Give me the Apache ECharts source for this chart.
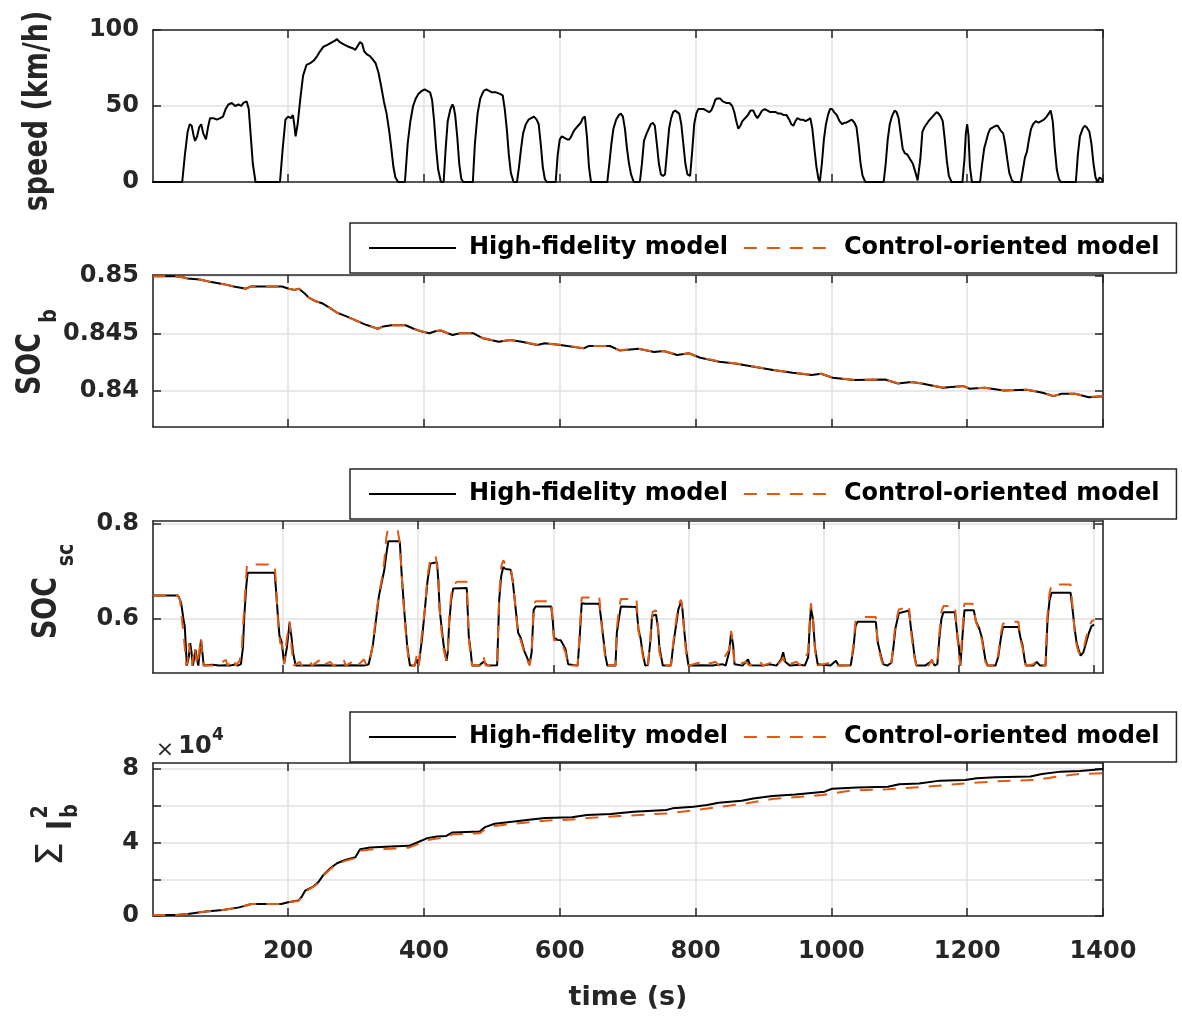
<!DOCTYPE html>
<html><head><meta charset="utf-8">
<script src="https://cdn.jsdelivr.net/npm/echarts@6/dist/echarts.min.js"></script>
<style>html,body{margin:0;padding:0;background:#fff}#c{width:1182px;height:1017px}</style>
</head><body><div id="c"></div>
<script>
// ---------- data ----------
const xTickValues = [200, 400, 600, 800, 1000, 1200, 1400];
const legendNames = ['High-fidelity model', 'Control-oriented model'];

// Panel 1: speed (km/h)
const speedT = [0,44,48,52,55,58,61,63,66,69,72,75,79,82,85,90,95,100,104,108,112,117,122,127,131,134,139,142,145,148,152,188,192,196,200,204,207,209,211,214,218,222,227,232,238,243,247,252,257,261,265,269,272,276,280,284,289,295,299,303,306,309,312,316,320,324,329,333,337,341,345,349,352,355,358,362,372,376,380,384,388,392,397,401,405,409,412,415,418,421,425,429,432,435,439,442,444,446,449,452,455,458,472,475,479,483,488,492,496,500,506,512,516,519,522,525,528,532,537,540,543,546,550,554,558,562,566,569,572,575,578,581,594,597,600,603,607,611,614,617,620,623,627,631,634,637,640,643,646,670,673,676,679,683,687,690,693,696,699,702,705,709,718,721,724,728,731,734,737,740,743,746,749,752,755,758,761,764,767,770,773,776,779,782,785,788,792,795,798,801,804,808,812,816,820,823,826,829,832,836,840,845,850,854,857,860,863,866,869,873,877,881,885,888,891,894,898,902,906,910,914,918,922,926,930,934,938,941,944,947,950,954,958,962,966,969,972,975,978,981,983,986,989,992,995,998,1001,1004,1008,1012,1016,1019,1022,1026,1030,1034,1037,1040,1043,1046,1050,1077,1080,1083,1086,1089,1093,1096,1099,1102,1105,1108,1112,1116,1120,1124,1127,1129,1131,1134,1137,1140,1143,1147,1151,1155,1158,1161,1164,1167,1170,1173,1177,1193,1196,1198,1200,1202,1204,1207,1219,1222,1225,1228,1231,1234,1238,1242,1245,1249,1253,1256,1259,1262,1266,1269,1279,1282,1285,1288,1291,1294,1297,1301,1305,1309,1313,1317,1320,1323,1326,1329,1332,1335,1338,1360,1363,1366,1370,1373,1376,1380,1383,1386,1389,1392,1395,1398,1400];
const speedV = [0,0,18,33,38,37,30,27,30,36,38,32,28,36,42,42,41,42,43,48,51,52,50,51,50,52,53,48,30,12,0,0,22,41,43,42,44,38,30,38,55,70,77,78,80,83,86,89,90,91,92,93,94,92,91,90,89,88,87,90,92,91,86,84,83,81,78,72,63,53,45,33,22,10,3,0,0,25,40,50,55,58,60,61,60,59,54,40,22,8,0,0,22,40,48,51,49,44,30,12,2,0,0,25,45,55,60,61,60,59,59,58,57,48,35,18,6,0,0,10,22,32,38,41,42,43,41,38,25,10,2,0,0,18,28,30,29,28,28,30,33,35,37,39,42,43,30,10,0,0,12,25,35,41,44,45,43,35,22,12,5,0,0,12,27,32,35,38,39,37,25,12,5,4,5,20,35,42,46,47,46,45,38,25,12,5,4,20,38,45,48,48,48,47,46,47,50,54,55,55,53,52,52,50,46,40,35,37,40,42,44,47,47,44,42,44,47,48,47,46,46,46,45,45,44,44,41,38,37,40,42,41,41,40,41,42,35,22,10,2,0,12,28,38,44,48,48,46,44,40,38,39,39,40,41,39,36,25,12,4,0,0,12,28,38,43,47,46,42,32,22,19,18,15,12,6,1,0,15,33,36,38,40,42,44,46,45,43,40,28,14,4,0,0,15,32,38,30,10,0,0,12,22,27,32,35,36,37,37,34,32,25,15,6,1,0,0,8,16,20,28,35,38,40,39,40,41,43,45,47,40,22,8,2,0,0,18,30,35,37,36,33,25,12,3,0,3,2,0];

// Panel 2: SOC_b
const socbT = [0,34,45,52,70,85,105,120,138,145,158,191,201,209,216,224,231,241,251,262,272,285,297,312,332,340,352,373,385,397,408,418,425,435,442,453,473,487,510,527,544,567,578,601,635,643,674,688,716,739,753,773,790,807,835,858,886,914,943,971,985,1002,1033,1079,1098,1118,1135,1164,1195,1203,1226,1254,1288,1311,1327,1339,1359,1379,1400];
const socbHF = [0.8500,0.8500,0.8499,0.8498,0.8497,0.8495,0.8493,0.8491,0.8489,0.8491,0.8491,0.8491,0.8489,0.8488,0.8489,0.8485,0.8481,0.8478,0.8476,0.8472,0.8468,0.8465,0.8462,0.8458,0.8454,0.8456,0.8457,0.8457,0.8454,0.84515,0.8450,0.8452,0.84524,0.8450,0.84485,0.8450,0.8450,0.84456,0.84426,0.84441,0.84426,0.84397,0.84412,0.84397,0.84368,0.84389,0.84389,0.8435,0.84365,0.84336,0.84345,0.8431,0.84325,0.84286,0.84251,0.84236,0.84207,0.84178,0.84155,0.84134,0.84146,0.84111,0.84091,0.84096,0.84061,0.84073,0.84058,0.84023,0.84038,0.84015,0.84023,0.8400,0.84006,0.8398,0.8395,0.83971,0.83971,0.83941,0.8395];
const socbCO = [0.8500,0.8500,0.8499,0.8498,0.8497,0.8495,0.8493,0.8491,0.8489,0.8491,0.8491,0.8491,0.8489,0.8488,0.8489,0.8485,0.8481,0.8478,0.8476,0.8472,0.8468,0.8465,0.8462,0.8458,0.8454,0.8456,0.8457,0.8457,0.8454,0.84517,0.8450,0.8452,0.84524,0.8450,0.84487,0.8450,0.8450,0.84458,0.84428,0.84441,0.84428,0.84399,0.84412,0.84399,0.8437,0.84389,0.84389,0.84352,0.84365,0.84338,0.84345,0.84312,0.84325,0.84288,0.84253,0.84238,0.84209,0.8418,0.84157,0.84136,0.84146,0.84113,0.84093,0.84096,0.84063,0.84073,0.8406,0.84025,0.84038,0.84017,0.84023,0.84002,0.84006,0.83982,0.83952,0.83971,0.83971,0.83943,0.8395];

// Panel 3: SOC_sc
const soscT_HF = [8,45,48,50,53,55,57,58,61,63,65,67,69,71,73,75,77,79,81,83,96,106,116,121,128,133,138,141,143,146,148,152,188,190,193,195,198,202,206,210,213,215,219,240,260,280,300,320,327,333,338,342,346,350,353,356,373,376,380,384,388,395,398,401,406,410,414,418,420,428,430,432,435,438,442,444,446,449,452,472,475,478,480,490,497,503,517,520,523,526,529,537,540,543,548,552,557,561,565,568,571,574,597,599,601,606,611,615,618,622,636,639,642,648,668,672,677,680,692,694,697,700,723,726,729,732,736,740,744,746,752,755,757,762,774,777,780,785,789,791,794,797,800,820,835,850,855,860,863,866,868,880,888,891,910,920,930,937,940,943,950,965,972,977,979,981,984,987,991,1010,1018,1022,1040,1044,1047,1050,1077,1080,1085,1088,1094,1100,1103,1106,1111,1116,1122,1126,1129,1131,1134,1137,1150,1160,1164,1168,1171,1174,1177,1194,1198,1200,1202,1205,1208,1222,1225,1230,1234,1239,1242,1254,1258,1262,1265,1288,1291,1294,1297,1299,1310,1315,1320,1328,1331,1334,1337,1365,1368,1371,1374,1377,1380,1384,1388,1392,1396,1400];
const soscHF = [0.649,0.649,0.640,0.630,0.600,0.584,0.530,0.502,0.520,0.549,0.530,0.502,0.520,0.535,0.515,0.502,0.530,0.556,0.530,0.502,0.504,0.502,0.503,0.502,0.504,0.502,0.505,0.540,0.605,0.670,0.697,0.697,0.697,0.660,0.600,0.565,0.553,0.507,0.540,0.591,0.560,0.530,0.502,0.502,0.503,0.502,0.503,0.502,0.505,0.543,0.600,0.647,0.675,0.702,0.735,0.763,0.763,0.688,0.610,0.543,0.502,0.502,0.515,0.503,0.560,0.619,0.680,0.716,0.719,0.719,0.680,0.619,0.580,0.543,0.512,0.530,0.590,0.640,0.664,0.665,0.564,0.530,0.502,0.502,0.510,0.502,0.503,0.640,0.690,0.709,0.705,0.703,0.680,0.640,0.571,0.560,0.533,0.520,0.505,0.530,0.619,0.626,0.626,0.600,0.561,0.556,0.555,0.545,0.537,0.505,0.502,0.560,0.633,0.632,0.632,0.585,0.523,0.502,0.502,0.571,0.600,0.626,0.625,0.578,0.560,0.530,0.502,0.503,0.560,0.606,0.609,0.580,0.540,0.502,0.502,0.540,0.571,0.620,0.637,0.620,0.571,0.530,0.502,0.503,0.502,0.505,0.502,0.530,0.571,0.545,0.505,0.502,0.515,0.503,0.502,0.505,0.502,0.515,0.530,0.510,0.502,0.504,0.502,0.520,0.580,0.623,0.600,0.540,0.505,0.502,0.512,0.502,0.503,0.540,0.585,0.594,0.594,0.550,0.520,0.505,0.502,0.508,0.540,0.580,0.612,0.614,0.616,0.618,0.580,0.560,0.525,0.502,0.502,0.512,0.502,0.505,0.560,0.600,0.614,0.614,0.560,0.540,0.502,0.560,0.618,0.618,0.595,0.580,0.560,0.515,0.502,0.502,0.520,0.560,0.583,0.583,0.560,0.545,0.515,0.502,0.502,0.510,0.502,0.502,0.599,0.640,0.655,0.655,0.620,0.580,0.550,0.535,0.523,0.530,0.550,0.570,0.585,0.588];
const soscT_CO = [8,45,48,50,53,55,57,59,61,64,66,68,70,72,74,76,79,81,83,100,116,118,128,130,136,139,141,144,147,188,190,193,196,199,202,206,210,213,216,225,228,240,243,255,258,270,275,290,293,305,310,320,324,328,333,338,342,346,350,353,355,370,373,376,380,384,387,395,398,401,405,410,414,418,422,426,428,430,432,435,438,442,444,446,449,452,458,472,475,478,480,494,497,500,517,520,523,526,529,537,540,543,548,552,557,561,565,568,571,574,597,599,601,606,611,615,618,622,636,639,642,668,672,677,680,692,694,697,700,723,726,729,732,736,740,744,747,752,755,757,762,774,777,780,785,789,791,794,797,800,815,820,840,845,860,863,866,868,885,890,905,910,925,930,937,940,943,960,965,977,979,981,984,987,991,1015,1018,1040,1044,1047,1050,1060,1077,1080,1085,1088,1100,1103,1106,1111,1118,1122,1126,1129,1131,1134,1137,1155,1160,1163,1168,1171,1174,1177,1194,1198,1200,1202,1205,1208,1220,1225,1230,1234,1239,1242,1254,1258,1262,1265,1275,1288,1291,1294,1297,1299,1310,1315,1320,1328,1331,1334,1337,1365,1368,1371,1374,1377,1380,1384,1388,1392,1396,1400];
const soscCO = [0.649,0.649,0.640,0.610,0.570,0.540,0.502,0.510,0.549,0.520,0.502,0.530,0.540,0.515,0.502,0.530,0.560,0.520,0.502,0.502,0.514,0.502,0.516,0.502,0.512,0.530,0.580,0.650,0.714,0.714,0.670,0.590,0.550,0.545,0.505,0.560,0.595,0.540,0.502,0.510,0.502,0.512,0.502,0.514,0.502,0.510,0.502,0.515,0.502,0.512,0.502,0.515,0.502,0.510,0.545,0.610,0.650,0.680,0.720,0.770,0.785,0.785,0.760,0.690,0.600,0.540,0.502,0.502,0.523,0.502,0.560,0.620,0.690,0.725,0.730,0.733,0.733,0.690,0.620,0.570,0.535,0.512,0.530,0.600,0.650,0.672,0.678,0.678,0.560,0.520,0.502,0.502,0.520,0.502,0.505,0.650,0.710,0.723,0.715,0.708,0.680,0.640,0.565,0.555,0.530,0.515,0.502,0.530,0.630,0.637,0.637,0.600,0.555,0.555,0.550,0.540,0.530,0.502,0.502,0.570,0.645,0.645,0.580,0.515,0.502,0.502,0.580,0.620,0.642,0.642,0.575,0.555,0.525,0.502,0.502,0.570,0.615,0.618,0.580,0.530,0.502,0.502,0.545,0.580,0.630,0.640,0.620,0.565,0.520,0.502,0.508,0.502,0.510,0.502,0.535,0.575,0.540,0.502,0.510,0.502,0.512,0.502,0.510,0.502,0.512,0.520,0.502,0.510,0.502,0.530,0.590,0.633,0.605,0.535,0.502,0.510,0.502,0.502,0.550,0.595,0.598,0.604,0.604,0.545,0.515,0.502,0.505,0.550,0.590,0.620,0.622,0.628,0.628,0.575,0.550,0.520,0.502,0.502,0.515,0.502,0.505,0.570,0.615,0.627,0.627,0.555,0.530,0.502,0.575,0.632,0.632,0.595,0.575,0.555,0.510,0.502,0.502,0.525,0.570,0.590,0.594,0.594,0.555,0.540,0.510,0.502,0.505,0.512,0.502,0.502,0.610,0.655,0.672,0.672,0.625,0.575,0.545,0.530,0.525,0.535,0.560,0.580,0.595,0.598];

// Panel 4: sum of I_b^2 (in units of 10^4)
const sumT_HF = [0,35,52,79,104,128,146,163,190,200,215,220,225,237,244,252,262,272,284,299,306,321,351,378,390,405,419,433,442,482,490,504,533,555,578,618,640,675,709,757,766,797,817,834,868,885,913,947,990,1001,1038,1083,1100,1129,1160,1197,1214,1242,1293,1310,1338,1366,1392,1400];
const sumHF = [0.05,0.05,0.11,0.24,0.33,0.47,0.65,0.65,0.65,0.75,0.84,1.05,1.38,1.6,1.82,2.24,2.6,2.87,3.05,3.2,3.64,3.73,3.78,3.82,4.0,4.24,4.33,4.36,4.55,4.6,4.84,5.02,5.15,5.24,5.33,5.38,5.5,5.55,5.68,5.77,5.86,5.95,6.04,6.17,6.28,6.4,6.53,6.62,6.77,6.93,7.0,7.04,7.17,7.22,7.37,7.4,7.5,7.55,7.59,7.73,7.86,7.89,7.98,8.0];
const sumT_CO = [0,35,52,79,104,128,146,190,200,215,220,225,237,244,252,262,272,284,299,306,321,351,378,390,405,419,433,442,482,490,504,533,555,578,618,640,687,760,800,874,913,987,1027,1083,1140,1197,1253,1299,1338,1366,1400];
const sumCO = [0.05,0.05,0.11,0.24,0.33,0.47,0.65,0.65,0.75,0.82,1.0,1.33,1.58,1.78,2.2,2.55,2.83,3.0,3.15,3.55,3.62,3.66,3.72,3.9,4.14,4.22,4.26,4.45,4.5,4.72,4.9,5.03,5.1,5.19,5.25,5.33,5.44,5.59,5.77,6.13,6.37,6.59,6.82,6.9,7.04,7.22,7.35,7.4,7.62,7.73,7.77];

// y tick values
const speedTicks = [0, 50, 100];
const socbTicks = [0.84, 0.845, 0.85];
const soscTicks = [0.6, 0.8];
const sumTicks = [0, 2, 4, 6, 8];
const sumLabels = [0, 4, 8];

// ---------- styles ----------
const FONT = '"DejaVu Sans", "Liberation Sans", sans-serif';
const AX = '#262626';
const GRIDC = '#e2e2e2';
const BLACK = '#000000';
const ORANGE = '#DF5A13';
const DASH = [13, 10];

const zip = (t, v) => t.map((x, i) => [x, v[i]]);

const grids = [
  {left: 153, top: 30, width: 950, height: 152},
  {left: 153, top: 275, width: 950, height: 152},
  {left: 153, top: 521, width: 950, height: 152},
  {left: 153, top: 763, width: 950, height: 153}
];
const xRanges = [[1, 1400], [1, 1400], [8, 1413], [1, 1400]];
const yRanges = [[0, 100], [0.8368, 0.8501], [0.4865, 0.8055], [0, 8.33]];
const yTicks = [speedTicks, socbTicks, soscTicks, sumTicks];
const yLabels = [speedTicks, socbTicks, soscTicks, sumLabels];

const tickStyle = {show: true, inside: true, length: 8, lineStyle: {color: AX, width: 1.5}};
const lineStyleAx = {show: true, onZero: false, lineStyle: {color: AX, width: 1.6}};

const xAxes = [], yAxes = [];
for (let i = 0; i < 4; i++) {
  xAxes.push({
    type: 'value', gridIndex: i, position: 'bottom',
    min: xRanges[i][0], max: xRanges[i][1],
    axisLine: lineStyleAx,
    axisTick: Object.assign({}, tickStyle, {customValues: xTickValues}),
    axisLabel: {show: i === 3, customValues: xTickValues, margin: 24,
      formatter: v => String(v), fontFamily: FONT, fontWeight: 'bold', fontSize: 24, color: AX},
    splitLine: {show: true, lineStyle: {color: GRIDC, width: 1.5}},
    name: i === 3 ? 'time (s)' : '', nameLocation: 'middle', nameGap: 68,
    nameTextStyle: {fontFamily: FONT, fontWeight: 'bold', fontSize: 27, color: AX}
  });
}
for (let i = 0; i < 4; i++) {
  xAxes.push({
    type: 'value', gridIndex: i, position: 'top',
    min: xRanges[i][0], max: xRanges[i][1],
    axisLine: lineStyleAx,
    axisTick: Object.assign({}, tickStyle, {customValues: xTickValues}),
    axisLabel: {show: false},
    splitLine: {show: false}
  });
}
for (let i = 0; i < 4; i++) {
  yAxes.push({
    type: 'value', gridIndex: i, position: 'left',
    min: yRanges[i][0], max: yRanges[i][1],
    axisLine: lineStyleAx,
    axisTick: Object.assign({}, tickStyle, {customValues: yTicks[i]}),
    axisLabel: {show: true, customValues: yLabels[i], margin: 14,
      formatter: v => String(v), fontFamily: FONT, fontWeight: 'bold', fontSize: 24, color: AX},
    splitLine: {show: true, lineStyle: {color: GRIDC, width: 1.5}}
  });
}
for (let i = 0; i < 4; i++) {
  yAxes.push({
    type: 'value', gridIndex: i, position: 'right',
    min: yRanges[i][0], max: yRanges[i][1],
    axisLine: lineStyleAx,
    axisTick: Object.assign({}, tickStyle, {customValues: yTicks[i]}),
    axisLabel: {show: false},
    splitLine: {show: false}
  });
}

function line(name, data, gi, color, dashed) {
  return {
    type: 'line', name: name, xAxisIndex: gi, yAxisIndex: gi, data: data,
    symbol: 'none', showSymbol: false, clip: true, animation: false,
    lineStyle: {color: color, width: 2, type: dashed ? DASH : 'solid'},
    itemStyle: {color: color}
  };
}

const series = [
  line('speed', zip(speedT, speedV), 0, BLACK, false),
  line(legendNames[0], zip(socbT, socbHF), 1, BLACK, false),
  line(legendNames[1], zip(socbT, socbCO), 1, ORANGE, true),
  line(legendNames[0], zip(soscT_HF, soscHF), 2, BLACK, false),
  line(legendNames[1], zip(soscT_CO, soscCO), 2, ORANGE, true),
  line(legendNames[0], zip(sumT_HF, sumHF), 3, BLACK, false),
  line(legendNames[1], zip(sumT_CO, sumCO), 3, ORANGE, true)
];

function legend(top) {
  return {
    data: [
      {name: legendNames[0], lineStyle: {color: BLACK, width: 2, type: 'solid'}},
      {name: legendNames[1], lineStyle: {color: ORANGE, width: 2, type: DASH, dashOffset: 0}}
    ],
    left: 350, top: top, orient: 'horizontal',
    padding: [13, 17, 13, 18], itemGap: 15, itemWidth: 87, itemHeight: 2,
    borderColor: AX, borderWidth: 1.5, backgroundColor: '#fff',
    selectedMode: false,
    itemStyle: {opacity: 0},
    textStyle: {fontFamily: FONT, fontWeight: 'bold', fontSize: 24, color: '#000', padding: [0, 0, 0, 8]}
  };
}

function rtext(x, y, text, size, weight, sy) {
  return {type: 'text', x: x, y: y, rotation: Math.PI / 2, scaleY: sy || 1.22, z: 100,
    style: {text: text, fontFamily: FONT, fontWeight: weight, fontSize: size, fill: AX,
      align: 'center', verticalAlign: 'middle'}};
}
function htext(x, y, text, size, weight) {
  return {type: 'text', x: x, y: y, z: 100,
    style: {text: text, fontFamily: FONT, fontWeight: weight, fontSize: size, fill: AX,
      align: 'center', verticalAlign: 'middle'}};
}

const graphic = [
  rtext(38, 111, 'speed (km/h)', 27, 'bold'),
  rtext(31, 364, 'SOC', 27, 'bold'),
  rtext(50, 316, 'b', 19, 'bold'),
  rtext(47, 608, 'SOC', 27, 'bold'),
  rtext(67, 555, 'sc', 19, 'bold'),
  rtext(52, 854, '\u03A3', 38, 'normal', 1.0),
  rtext(62, 825, 'I', 27, 'bold'),
  rtext(41, 812, '2', 19, 'bold'),
  rtext(71, 811, 'b', 19, 'bold'),
  htext(165, 750, '\u00D7', 22, 'normal'),
  htext(195, 747, '10', 24, 'bold'),
  htext(218, 736, '4', 17, 'bold')
];

const chart = echarts.init(document.getElementById('c'), null, {renderer: 'canvas'});
chart.setOption({
  animation: false,
  backgroundColor: '#fff',
  grid: grids,
  xAxis: xAxes,
  yAxis: yAxes,
  legend: [legend(223), legend(469), legend(712)],
  series: series,
  graphic: graphic
});
</script></body></html>
